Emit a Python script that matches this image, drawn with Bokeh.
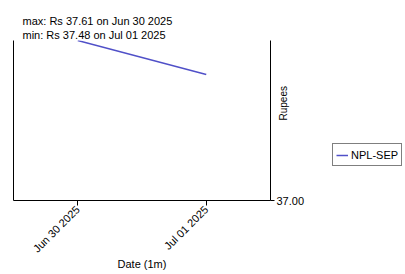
from datetime import datetime, timedelta
from bokeh.plotting import figure
from bokeh.layouts import row
from bokeh.models import (LinearAxis, Range1d, FixedTicker, DatetimeTickFormatter,
                          NumeralTickFormatter, Title, Legend, LegendItem, ColumnDataSource)
from bokeh.embed import file_html
from bokeh.resources import INLINE
import math

dates = [datetime(2025, 6, 30), datetime(2025, 7, 1)]
prices = [37.61, 37.48]
series_name = "NPL-SEP"
y_ticks = [37.00]
title_max = "max: Rs 37.61 on Jun 30 2025"
title_min = "min: Rs 37.48 on Jul 01 2025"

FONT = "Liberation Sans"
COLOR = "#5050c8"

src = ColumnDataSource(dict(x=dates, y=prices))

p = figure(frame_width=257, frame_height=160, output_backend="svg", toolbar_location=None,
           x_axis_type="datetime", y_axis_location=None,
           x_range=Range1d(dates[0] - timedelta(hours=12), dates[-1] + timedelta(hours=12)),
           y_range=Range1d(y_ticks[0], max(prices)),
           min_border_left=13, min_border_right=60, min_border_top=40, min_border_bottom=74)
p.outline_line_color = None
p.grid.visible = False
p.background_fill_color = "white"
p.border_fill_color = "white"

r = p.line("x", "y", source=src, line_color=COLOR, line_width=1.5)

# bottom axis
xa = p.xaxis[0]
xa.ticker = FixedTicker(ticks=[d.timestamp() * 1000 for d in dates])
xa.formatter = DatetimeTickFormatter(days="%b %d %Y", hours="%b %d %Y", months="%b %d %Y")
xa.major_label_orientation = math.pi / 4
xa.minor_tick_line_color = None
xa.major_tick_in = 0
xa.major_tick_out = 5
xa.axis_label = "Date (1m)"
xa.axis_label_text_font_style = "normal"
xa.axis_label_text_font = FONT
xa.axis_label_text_font_size = "11px"
xa.axis_label_text_color = "black"
xa.major_label_text_font = FONT
xa.major_label_text_font_size = "11px"
xa.major_label_text_color = "black"
xa.axis_label_standoff = -4
xa.major_label_standoff = 2

# left plain axis line
la = LinearAxis(major_tick_line_color=None, minor_tick_line_color=None,
                major_label_text_font_size="0px", ticker=FixedTicker(ticks=[]))
p.add_layout(la, "left")

# right axis
ra = LinearAxis(ticker=FixedTicker(ticks=y_ticks), formatter=NumeralTickFormatter(format="0.00"))
ra.minor_tick_line_color = None
ra.major_tick_in = 0
ra.major_tick_out = 4
ra.major_label_standoff = 2
ra.major_label_text_font = FONT
ra.major_label_text_font_size = "11px"
ra.major_label_text_color = "black"
ra.axis_label = "Rupees"
ra.axis_label_text_font = FONT
ra.axis_label_text_font_style = "normal"
ra.axis_label_text_font_size = "10px"
ra.axis_label_text_color = "black"
ra.axis_label_standoff = -24
ra.axis_label_orientation = math.pi / 2
p.add_layout(ra, "right")

# titles
p.add_layout(Title(text=title_min, text_font=FONT, text_font_size="11px", text_color="black",
                   text_font_style="normal", offset=9, standoff=-1), "above")
p.add_layout(Title(text=title_max, text_font=FONT, text_font_size="11px", text_color="black",
                   text_font_style="normal", offset=9, standoff=2), "above")

# legend panel (second figure, its line lies outside its ranges so only the legend shows)
p2 = figure(width=75, height=274, output_backend="svg", toolbar_location=None,
            x_axis_location=None, y_axis_location=None,
            x_range=Range1d(0, 1), y_range=Range1d(0, 1), min_border=0)
p2.outline_line_color = None
p2.grid.visible = False
p2.background_fill_color = "white"
p2.border_fill_color = "white"
r2 = p2.line("x", "y", source=src, line_color=COLOR, line_width=1.5)

legend = Legend(items=[LegendItem(label=series_name, renderers=[r2])],
                location=(2, 34), label_text_font=FONT, label_text_font_size="11px",
                label_text_color="black",
                border_line_color="black", border_line_width=1,
                glyph_width=12, glyph_height=10, padding=3, margin=0,
                label_standoff=3, spacing=0, label_height=15)
p2.add_layout(legend, "center")

layout = row(p, p2)
open("out.html", "w").write(file_html(layout, INLINE))
